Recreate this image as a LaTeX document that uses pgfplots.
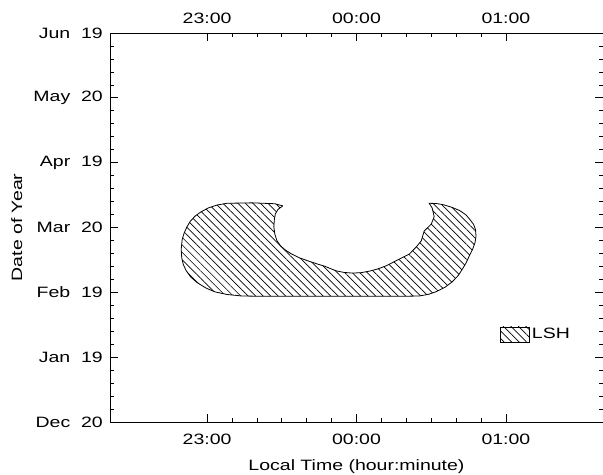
\documentclass[border=0pt]{standalone}
\usepackage{fontspec}
\setmainfont{Liberation Sans}[FakeStretch=1.3]
\usepackage{pgfplots}
\pgfplotsset{compat=1.18}
\usetikzlibrary{patterns.meta}
\begin{document}
\fontsize{15}{18}\selectfont
\begin{tikzpicture}
\begin{axis}[
  scale only axis, width=493pt, height=389pt,
  xmin=-99, xmax=99, ymin=0, ymax=180,
  xtick={-60,0,60}, xticklabels={23:00,00:00,01:00},
  ytick={0,30,60,90,120,150,180},
  yticklabels={Dec\ \ 20,Jan\ \ 19,Feb\ \ 19,Mar\ \ 20,Apr\ \ 19,May\ \ 20,Jun\ \ 19},
  minor x tick num=5, minor y tick num=4,
  major tick length=8pt, minor tick length=4pt,
  tick style={black, line width=0.7pt},
  axis line style={line width=0.8pt},
  ticklabel style={font=\fontsize{15}{18}\selectfont},
  xticklabel style={yshift=-7pt},
  yticklabel style={xshift=-2pt},
  xlabel={Local Time (hour:minute)},
  ylabel={Date of Year},
  label style={font=\fontsize{15}{18}\selectfont},
  xlabel style={yshift=-5pt},
  ylabel style={yshift=1pt},
  legend style={at={(axis cs:57.6,40.5)}, anchor=west, draw=none, fill=none, inner sep=0pt},
  legend image code/.code={\draw[#1] (0pt,-7.5pt) rectangle (29pt,7.5pt);},
]
\coordinate (SW) at (rel axis cs:0,0);
\coordinate (NE) at (rel axis cs:1,1);
\addplot[draw=black, line width=0.8pt, pattern={Lines[angle=-45,distance=5.3pt,line width=0.7pt]}] coordinates {
(-29.6,100.0) (-32.8,101.0) (-42,101.4) (-52,101.2) (-56,100.4) (-59.6,99.0)
(-62.5,97.2) (-64.8,95.3) (-66.8,92.8) (-68,90.5) (-69.2,87.5) (-70,84.5)
(-70.4,80) (-70.2,76) (-69.6,73) (-68.4,70) (-66.5,67) (-64,64.5) (-60.5,62)
(-56.8,60.2) (-52,59) (-46,58.3) (-40,58.2) (0,58.2) (20,58.2) (25.2,58.3)
(29,59.1) (32,60.3) (35.5,62.3) (38.4,64.8) (40.8,67.7) (42.4,70.5) (44,73.6)
(45.2,76.6) (46.6,79.8) (47.6,83) (48,86) (47.8,89) (47,91.5) (45.6,93.6)
(44,95.8) (41.5,97.8) (38.4,99.3) (35,100.5) (32,101.1) (29.2,101.2)
(30.4,99) (31.2,95) (30,91.5) (27.2,88.4) (26,83.8) (24,81) (21.2,77.7)
(17.2,75.4) (12,72.3) (8.5,70.8) (5.2,69.8) (1.8,69.1) (-1.6,68.9) (-5,69.2)
(-8,69.9) (-10.5,71) (-12.8,72.1) (-16,73.2) (-19.6,74.6) (-23,76) (-26,77.7)
(-28.5,79.5) (-30.5,81.5) (-32,84) (-32.8,87) (-33.2,90.3) (-33.0,93.5)
(-32.6,96.3) (-31.5,98.4) (-29.6,100.0)
};
\addlegendentry{LSH}
\end{axis}
\begin{axis}[
  scale only axis, width=493pt, height=389pt,
  xmin=-99, xmax=99, ymin=0, ymax=180,
  hide y axis, axis x line*=top,
  x axis line style={draw=none},
  xtick={-60,0,60}, xticklabels={23:00,00:00,01:00},
  major tick length=0pt, minor x tick num=0,
  ticklabel style={font=\fontsize{15}{18}\selectfont},
  xticklabel style={yshift=4pt},
]
\end{axis}
\pgfresetboundingbox
\path ([shift={(-110pt,-53pt)}]SW) rectangle ([shift={(0pt,33pt)}]NE);
\end{tikzpicture}
\end{document}
